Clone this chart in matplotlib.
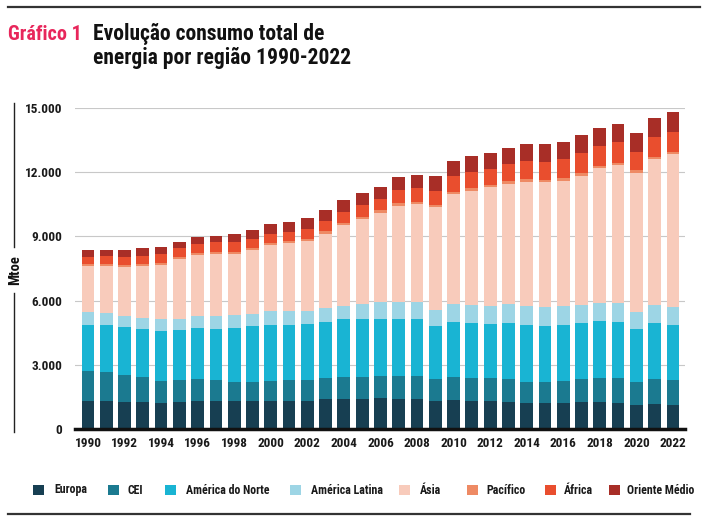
import matplotlib
matplotlib.use("Agg")
import matplotlib.pyplot as plt
from matplotlib import font_manager
from matplotlib.patches import Rectangle
from matplotlib.lines import Line2D
from matplotlib.ticker import FuncFormatter

# ---------------- data (Mtoe) ----------------
years = list(range(1990, 2023))
europa = [1300, 1300, 1250, 1250, 1220, 1270, 1320, 1300, 1290, 1290,
          1320, 1320, 1320, 1400, 1400, 1400, 1450, 1400, 1400, 1290,
          1350, 1320, 1290, 1270, 1220, 1220, 1220, 1270, 1270, 1220,
          1140, 1170, 1140]
cei = [1430, 1360, 1260, 1170, 1020, 1020, 1000, 990, 920, 920,
       920, 970, 970, 990, 1040, 1040, 1020, 1070, 1070, 1030,
       1070, 1070, 1070, 1070, 980, 960, 1030, 1070, 1120, 1170,
       1040, 1170, 1150]
america_norte = [2150, 2220, 2260, 2260, 2350, 2350, 2420, 2370, 2500, 2580,
                 2620, 2550, 2630, 2620, 2680, 2680, 2690, 2690, 2690, 2500,
                 2590, 2580, 2560, 2600, 2660, 2640, 2610, 2600, 2670, 2620,
                 2490, 2600, 2560]
america_latina = [580, 540, 500, 520, 530, 520, 530, 610, 610, 600,
                  670, 660, 610, 630, 650, 720, 760, 760, 760, 720,
                  820, 830, 830, 910, 890, 860, 890, 860, 840, 890,
                  780, 860, 830]
asia = [2140, 2200, 2290, 2410, 2540, 2770, 2860, 2910, 2860, 2980,
        3070, 3180, 3270, 3490, 3750, 3950, 4190, 4520, 4590, 4820,
        5150, 5340, 5550, 5600, 5810, 5850, 5860, 6040, 6290, 6420,
        6520, 6810, 7150]
pacifico = [90, 90, 90, 90, 90, 90, 90, 90, 90, 90,
            100, 100, 100, 100, 100, 100, 110, 110, 110, 110,
            110, 110, 110, 120, 120, 120, 120, 120, 120, 120,
            120, 120, 120]
africa = [370, 370, 370, 400, 430, 420, 440, 470, 470, 440,
          430, 420, 460, 510, 520, 570, 530, 600, 620, 640,
          720, 780, 750, 830, 830, 830, 880, 920, 920, 960,
          870, 900, 950]
oriente_medio = [290, 300, 330, 340, 340, 310, 320, 290, 390, 420,
                 430, 460, 510, 500, 560, 560, 580, 620, 650, 700,
                 720, 710, 740, 710, 800, 830, 790, 840, 840, 830,
                 850, 890, 910]

series_names = ["Europa", "CEI", "América do Norte", "América Latina",
                "Ásia", "Pacífico", "África", "Oriente Médio"]
series_values = [europa, cei, america_norte, america_latina,
                 asia, pacifico, africa, oriente_medio]
colors = ["#173F52", "#1B7A90", "#19B4D3", "#9DD5E5",
          "#F8CBBB", "#EE8A64", "#E94E2E", "#A82E27"]
y_ticks = [0, 3000, 6000, 9000, 12000, 15000]
x_ticks = list(range(1990, 2023, 2))

# ---------------- fonts ----------------
avail = {f.name for f in font_manager.fontManager.ttflist}
narrow = None
for cand in ["Liberation Sans Narrow", "Roboto Condensed", "Arial Narrow",
             "Liberation Sans"]:
    if cand in avail:
        narrow = cand
        break
if narrow is None:
    narrow = "DejaVu Sans"
plt.rcParams["font.family"] = [narrow, "DejaVu Sans"]

W, H = 710, 521
fig = plt.figure(figsize=(W / 100, H / 100), dpi=100)
fig.patch.set_facecolor("white")

def fx(px):
    return px / W

def fy(py):
    return 1 - py / H

ax = fig.add_axes([fx(75), fy(429), fx(685) - fx(75), fy(108) - fy(429)])

bottom = [0] * len(years)
for name, vals, col in zip(series_names, series_values, colors):
    ax.bar(years, vals, bottom=bottom, width=0.7, color=col, label=name,
           zorder=3, linewidth=0)
    bottom = [b + v for b, v in zip(bottom, vals)]

ax.set_xlim(1989.29, 2022.66)
ax.set_ylim(0, 15000)
ax.set_yticks(y_ticks)
ax.yaxis.set_major_formatter(FuncFormatter(lambda v, p: f"{int(v):,}".replace(",", ".")))
ax.set_xticks(x_ticks)
ax.tick_params(axis="both", length=0, labelsize=9.5, colors="#1a1a1a")
ax.tick_params(axis="y", pad=9)
ax.tick_params(axis="x", pad=6)
for lab in ax.get_xticklabels() + ax.get_yticklabels():
    lab.set_fontweight("bold")
ax.grid(axis="y", color="#c8c8c8", linewidth=0.8, zorder=0)
for s in ["left", "right", "top"]:
    ax.spines[s].set_visible(False)
ax.spines["bottom"].set_linewidth(2.5)
ax.spines["bottom"].set_color("#111111")
ax.spines["bottom"].set_zorder(4)

# y label with bracket line
fig.text(fx(15), fy(270), "Mtoe", rotation=90, ha="center", va="center",
         fontsize=10.5, fontweight="bold", color="#111111")
fig.add_artist(Line2D([fx(14), fx(14)], [fy(103), fy(247)], color="#222222", lw=1.0))
fig.add_artist(Line2D([fx(14), fx(14)], [fy(293), fy(432)], color="#222222", lw=1.0))

# rules
fig.add_artist(Line2D([fx(8), fx(700)], [fy(7), fy(7)], color="#333333", lw=1.6))
fig.add_artist(Line2D([fx(8), fx(690)], [fy(514), fy(514)], color="#333333", lw=1.6))

# title
fig.text(fx(8), fy(40), "Gráfico 1", fontsize=14.5, fontweight="bold",
         color="#E8265B", ha="left", va="baseline")
fig.text(fx(93), fy(40), "Evolução consumo total de", fontsize=15.5,
         fontweight="bold", color="#111111", ha="left", va="baseline")
fig.text(fx(93), fy(64), "energia por região 1990-2022", fontsize=15.5,
         fontweight="bold", color="#111111", ha="left", va="baseline")

# legend (manual placement)
sq_x = [33, 108, 165, 290, 399, 467, 545, 609]
txt_x = [54, 128, 186, 311, 420, 486, 564, 627]
for name, col, sx, tx in zip(series_names, colors, sq_x, txt_x):
    fig.add_artist(Rectangle((fx(sx), fy(495)), fx(11), fy(485) - fy(495),
                             transform=fig.transFigure, color=col, lw=0))
    fig.text(fx(tx), fy(490), name, fontsize=8.6, fontweight="bold",
             color="#1a1a1a", ha="left", va="center")

fig.savefig("out.png", dpi=100, facecolor="white")
